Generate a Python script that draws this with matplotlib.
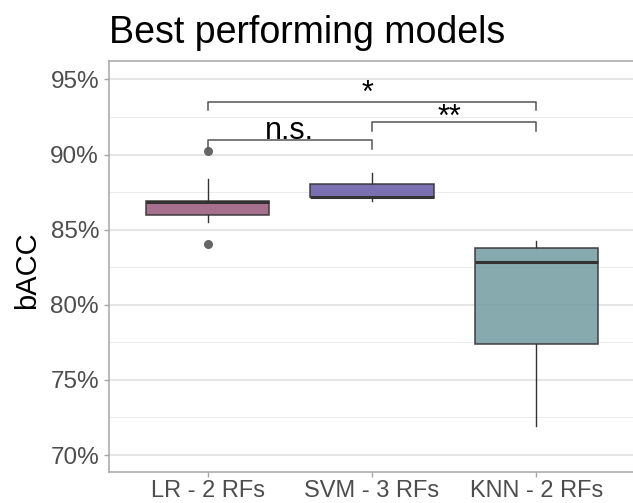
import matplotlib.pyplot as plt
from matplotlib.ticker import FuncFormatter, MultipleLocator

plt.rcParams['font.family'] = ['Liberation Sans', 'DejaVu Sans']

# box summaries (bACC, %)
models = ["LR - 2 RFs", "SVM - 3 RFs", "KNN - 2 RFs"]
q1 = [85.97, 87.15, 77.41]
median = [86.85, 87.19, 82.86]
q3 = [86.92, 88.03, 83.81]
whislo = [85.48, 86.92, 71.92]
whishi = [88.35, 88.79, 84.25]
fliers = [[90.25, 84.05], [], []]
fills = ["#99577B", "#6457A4", "#719B9F"]

# significance brackets: (from, to, height, label, label baseline)
comparisons = [
    (1, 2, 90.95, "n.s.", 91.05),
    (2, 3, 92.15, "**", 91.9),
    (1, 3, 93.52, "*", 93.5),
]
tip = 0.57

fig = plt.figure(figsize=(6.33, 5.03), dpi=100)
ax = fig.add_axes([0.1722, 0.061, 0.831, 0.8183])

stats = []
for i in range(len(models)):
    stats.append(dict(q1=q1[i], med=median[i], q3=q3[i], whislo=whislo[i],
                      whishi=whishi[i], fliers=fliers[i], label=models[i]))

bp = ax.bxp(stats, positions=[1, 2, 3], widths=0.75, patch_artist=True,
            showcaps=False,
            boxprops=dict(edgecolor="#333333", linewidth=1.2),
            whiskerprops=dict(color="#333333", linewidth=1.0),
            medianprops=dict(color="#333333", linewidth=2.2, zorder=4),
            flierprops=dict(marker="o", markerfacecolor="#666666",
                            markeredgecolor="#666666", markersize=5.5))
for patch, c in zip(bp["boxes"], fills):
    patch.set_facecolor(c)
    patch.set_alpha(0.85)
    patch.set_edgecolor("#333333")
    patch.set_zorder(3)

for a, b, h, lab, ty in comparisons:
    ax.plot([a, a, b, b], [h - tip, h, h, h - tip], color="#555555",
            linewidth=1.1, zorder=4)
    dx = 0 if lab == "n.s." else -3.5
    ax.annotate(lab, xy=((a + b) / 2, ty), xytext=(dx, 0),
                textcoords="offset points", ha="center", va="baseline",
                fontsize=22, color="black", zorder=5)

ax.set_xlim(0.4, 3.6)
ax.set_ylim(68.85, 96.25)
ax.yaxis.set_major_locator(MultipleLocator(5))
ax.yaxis.set_minor_locator(MultipleLocator(2.5))
ax.yaxis.set_major_formatter(FuncFormatter(lambda v, p: f"{v:.0f}%"))
ax.grid(axis="y", which="major", color="#DEDEDE", linewidth=1.1)
ax.grid(axis="y", which="minor", color="#EBEBEB", linewidth=0.7)
ax.set_axisbelow(True)

for s in ax.spines.values():
    s.set_color("#A6A6A6")
    s.set_linewidth(1.1)

ax.tick_params(axis="both", which="major", length=3.7, width=1.0,
               color="#A6A6A6", labelcolor="#4D4D4D", labelsize=17.5)
ax.tick_params(axis="y", which="major", pad=3.5)
ax.tick_params(axis="x", which="major", pad=1.5, labelsize=17)
ax.tick_params(axis="y", which="minor", length=0)

ax.set_ylabel("bACC", fontsize=21, color="black")
ax.yaxis.set_label_coords(-0.13, 0.49)
ax.set_title("Best performing models", loc="left", fontsize=27,
             color="black", pad=13)
ax.title.set_x(0.008)

fig.savefig("out.png", dpi=100)
